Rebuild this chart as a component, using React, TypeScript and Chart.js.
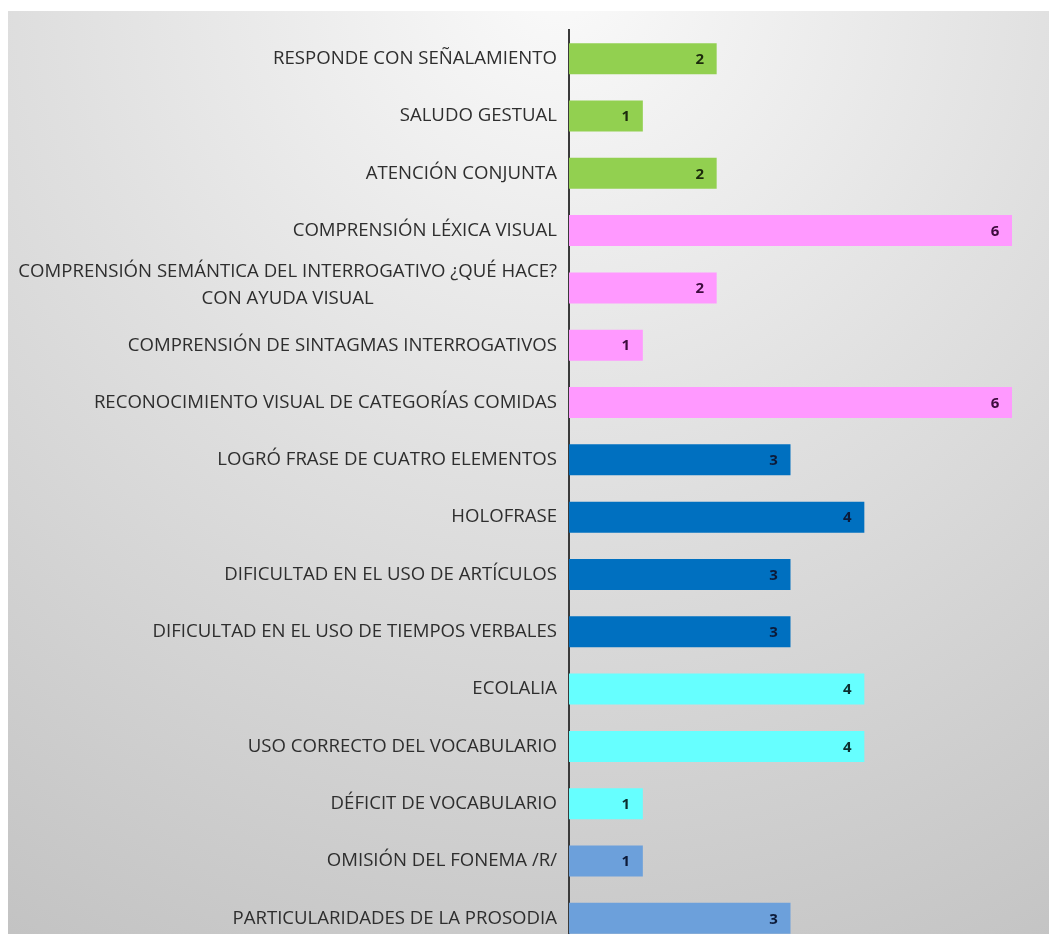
import React, { useEffect, useRef } from "react";
import { Chart, registerables } from "chart.js";

Chart.register(...registerables);

const categories: (string | string[])[] = [
  "RESPONDE CON SEÑALAMIENTO",
  "SALUDO GESTUAL",
  "ATENCIÓN CONJUNTA",
  "COMPRENSIÓN LÉXICA VISUAL",
  ["COMPRENSIÓN SEMÁNTICA DEL INTERROGATIVO ¿QUÉ HACE?", "CON AYUDA VISUAL"],
  "COMPRENSIÓN DE SINTAGMAS INTERROGATIVOS",
  "RECONOCIMIENTO VISUAL DE CATEGORÍAS COMIDAS",
  "LOGRÓ FRASE DE CUATRO ELEMENTOS",
  "HOLOFRASE",
  "DIFICULTAD EN EL USO DE ARTÍCULOS",
  "DIFICULTAD EN EL USO DE TIEMPOS VERBALES",
  "ECOLALIA",
  "USO CORRECTO DEL VOCABULARIO",
  "DÉFICIT DE VOCABULARIO",
  "OMISIÓN DEL FONEMA /R/",
  "PARTICULARIDADES DE LA PROSODIA",
];

const values: number[] = [2, 1, 2, 6, 2, 1, 6, 3, 4, 3, 3, 4, 4, 1, 1, 3];

const xTicks = { min: 0, max: 6 };

const GREEN = "#92d050";
const PINK = "#ff99ff";
const BLUE = "#0070c0";
const CYAN = "#66ffff";
const STEEL = "#6ca0db";

const barColors = [GREEN, GREEN, GREEN, PINK, PINK, PINK, PINK, BLUE, BLUE, BLUE, BLUE, CYAN, CYAN, CYAN, STEEL, STEEL];
const valueLabelColors: Record<string, string> = {
  [GREEN]: "#1c2a0c",
  [PINK]: "#3d0c3d",
  [BLUE]: "#0c1a38",
  [CYAN]: "#0c3030",
  [STEEL]: "#0c1a38",
};

const LABEL_FONT = '18.6px "Open Sans"';

const bgPlugin = {
  id: "bgPlugin",
  beforeDraw(chart: any) {
    const ctx = chart.ctx;
    ctx.save();
    ctx.fillStyle = "#ffffff";
    ctx.fillRect(0, 0, chart.width, chart.height);
    const g = ctx.createRadialGradient(560, -20, 0, 560, -20, 1120);
    g.addColorStop(0, "#fafafa");
    g.addColorStop(0.45, "#e0e0e0");
    g.addColorStop(1, "#c2c2c2");
    ctx.fillStyle = g;
    ctx.fillRect(8, 11, chart.width - 8, chart.height - 11);
    ctx.restore();
  },
};

const labelPlugin = {
  id: "labelPlugin",
  afterDraw(chart: any) {
    const ctx = chart.ctx;
    const yScale = chart.scales.y;
    const rightX = chart.chartArea.left - 12;
    ctx.save();
    ctx.font = LABEL_FONT;
    ctx.fillStyle = "#2e2e2e";
    ctx.textBaseline = "middle";
    categories.forEach((lab, i) => {
      const y = yScale.getPixelForValue(i);
      if (Array.isArray(lab)) {
        const widths = lab.map((l) => ctx.measureText(l).width);
        const maxW = Math.max(...widths);
        const cx = rightX - maxW / 2;
        const lh = 27;
        ctx.textAlign = "center";
        lab.forEach((l, k) => {
          ctx.fillText(l, cx, y - 3 + (k - (lab.length - 1) / 2) * lh);
        });
      } else {
        ctx.textAlign = "right";
        ctx.fillText(lab, rightX, y);
      }
    });
    // value labels
    const meta = chart.getDatasetMeta(0);
    ctx.font = 'bold 15px "Open Sans"';
    ctx.textAlign = "center";
    meta.data.forEach((bar: any, i: number) => {
      ctx.fillStyle = valueLabelColors[barColors[i]] || "#222";
      ctx.fillText(String(values[i]), bar.x - 17, bar.y + 1);
    });
    ctx.restore();
  },
};

export default function App() {
  const ref = useRef<HTMLCanvasElement | null>(null);
  useEffect(() => {
    if (!ref.current) return;
    const chart = new Chart(ref.current, {
      type: "bar",
      data: {
        labels: categories as any,
        datasets: [
          {
            data: values,
            backgroundColor: barColors,
            borderWidth: 0,
            barPercentage: 0.54,
            categoryPercentage: 1,
          },
        ],
      },
      options: {
        indexAxis: "y",
        animation: false,
        responsive: false,
        devicePixelRatio: 1,
        layout: { padding: { top: 30, bottom: 13, right: 37, left: 0 } },
        plugins: { legend: { display: false }, tooltip: { enabled: false } },
        scales: {
          x: { display: false, min: xTicks.min, max: xTicks.max },
          y: {
            display: true,
            grid: { display: false },
            border: { display: true, color: "#3a3a3a", width: 2 },
            ticks: { display: false },
            afterFit(scale: any) {
              scale.width = 569;
            },
          },
        },
      },
      plugins: [bgPlugin, labelPlugin],
    });
    return () => chart.destroy();
  }, []);
  return (
    <div style={{ position: "absolute", left: 0, top: 0, width: 1049, height: 934, overflow: "hidden" }}>
      <canvas ref={ref} width={1049} height={960} style={{ display: "block" }} />
    </div>
  );
}
